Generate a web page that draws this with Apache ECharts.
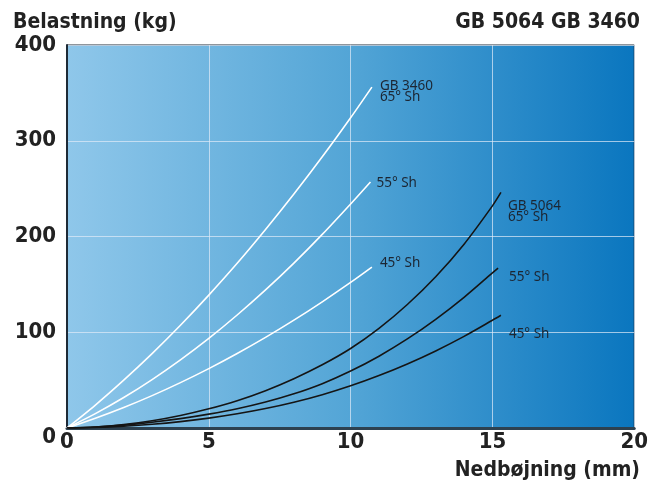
<!DOCTYPE html>
<html>
<head>
<meta charset="utf-8">
<script src="https://cdn.jsdelivr.net/npm/echarts@6/dist/echarts.min.js"></script>
<style>html,body{margin:0;padding:0;background:#fff}#c{width:651px;height:485px}</style>
</head>
<body>
<div id="c"></div>
<script>
// ---- data (x: deflection mm, y: load kg) ----
const gb3460_65 = [[0,0],[1,24],[2,50],[3,77.7],[4,107.3],[5,138.8],[6,172],[7,207.3],[8,244.3],[9,283.2],[10,324],[10.75,356]];
const gb3460_55 = [[0,0],[1,15],[2,31.8],[3,50.6],[4,71.2],[5,93.6],[6,118],[7,144.2],[8,172.2],[9,202.2],[10,234],[10.7,257]];
const gb3460_45 = [[0,0],[1,10.2],[2,21.4],[3,33.8],[4,47.4],[5,62],[6,77.8],[7,94.6],[8,112.6],[9,131.8],[10,152],[10.75,168]];
const gb5064_65 = [[0,0],[1,1],[2,3.5],[3,7.5],[4,13],[5,20],[6,28.5],[7,39],[8,51.5],[9,66],[10,83],[11,104],[12,129],[13,158],[14,192],[15,232],[15.3,246]];
const gb5064_55 = [[0,0],[1,1],[2,3],[3,6],[4,9.8],[5,14.5],[6,20.1],[7,27.1],[8,35.7],[9,46.3],[10,59.5],[11,75],[12,93],[13,113.5],[14,136.5],[15,162],[15.2,167]];
const gb5064_45 = [[0,0],[1,0.6],[2,1.9],[3,3.9],[4,6.7],[5,10.3],[6,14.8],[7,20.3],[8,26.9],[9,34.8],[10,44.1],[11,54.8],[12,66.9],[13,80.5],[14,95.7],[15,112.5],[15.3,117.7]];
const labels3460 = ['GB 3460\n65° Sh', '55° Sh', '45° Sh'];
const labels5064 = ['GB 5064\n65° Sh', '55° Sh', '45° Sh'];
const xTicks = [0, 5, 10, 15, 20];
const yTicks = [0, 100, 200, 300, 400];
const titleLeft = 'Belastning (kg)';
const titleRight = 'GB 5064 GB 3460';
const xName = 'Nedbøjning (mm)';

const boldFont = '"Liberation Sans Narrow", "DejaVu Sans Condensed", sans-serif';
const labelFont = '"Noto Sans", "Open Sans", sans-serif';

function mk(data, color, text, offset) {
  return {
    type: 'line', data: data, smooth: 0.3, showSymbol: false, symbol: 'none',
    lineStyle: { color: color, width: 1.6 }, silent: true,
    emphasis: { disabled: true },
    endLabel: {
      show: true, distance: 0, offset: offset,
      formatter: () => text, color: '#1c2633', fontFamily: labelFont,
      fontSize: 13.5, lineHeight: 11, align: 'left', verticalAlign: 'middle'
    }
  };
}

const tStyle = { fontFamily: boldFont, fontWeight: 'bold', fontSize: 21, color: '#222' };
const chart = echarts.init(document.getElementById('c'), null, { renderer: 'canvas' });
chart.setOption({
  animation: false,
  title: [
    { text: titleLeft, left: 13, top: 12, padding: 0, textStyle: tStyle },
    { text: titleRight, right: 11, top: 12, padding: 0, textStyle: tStyle },
    { text: xName, right: 11, bottom: 4, padding: 0, textStyle: tStyle }
  ],
  grid: {
    left: 67, right: 13, top: 45, bottom: 57,
    show: true, borderColor: '#1e2a36', borderWidth: 1,
    backgroundColor: new echarts.graphic.LinearGradient(0, 0, 1, 0, [
      { offset: 0, color: '#8fc7ea' },
      { offset: 0.5, color: '#53a5d6' },
      { offset: 1, color: '#0a76bf' }
    ])
  },
  xAxis: {
    type: 'value', min: xTicks[0], max: xTicks[xTicks.length - 1], interval: 5,
    axisLine: { show: true, lineStyle: { color: '#2d4150', width: 3 } },
    axisTick: { show: false },
    splitLine: { show: true, lineStyle: { color: 'rgba(225,235,248,0.7)', width: 1 } },
    axisLabel: { margin: 3, fontFamily: boldFont, fontWeight: 'bold', fontSize: 22, color: '#222' }
  },
  yAxis: {
    type: 'value', min: yTicks[0], max: yTicks[yTicks.length - 1], interval: 100,
    axisLine: { show: true, lineStyle: { color: '#1e2a36', width: 2 } },
    axisTick: { show: false },
    splitLine: { show: true, lineStyle: { color: 'rgba(225,235,248,0.7)', width: 1 } },
    axisLabel: {
      margin: 11, fontFamily: boldFont, fontWeight: 'bold', fontSize: 22, color: '#222',
      formatter: v => v === 0 ? '{z|0}' : String(v),
      rich: { z: { padding: [18, 0, 0, 0], fontFamily: boldFont, fontWeight: 'bold', fontSize: 22, color: '#222' } }
    }
  },
  series: [
    mk(gb3460_65, '#ffffff', labels3460[0], [8, 5]),
    mk(gb3460_55, '#ffffff', labels3460[1], [6, 1]),
    mk(gb3460_45, '#ffffff', labels3460[2], [8, -4]),
    mk(gb5064_65, '#151515', labels5064[0], [7, 19]),
    mk(gb5064_55, '#151515', labels5064[1], [11, 9]),
    mk(gb5064_45, '#151515', labels5064[2], [8, 19])
  ]
});
</script>
</body>
</html>
